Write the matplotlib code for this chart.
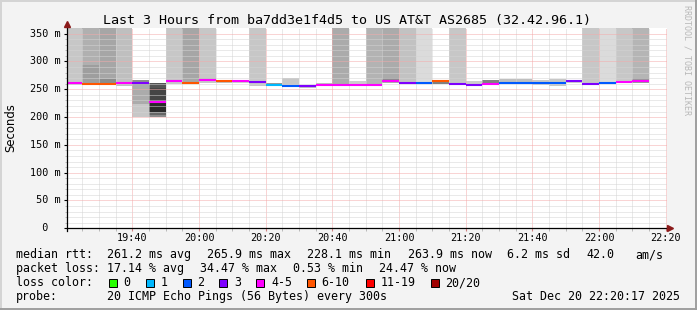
import matplotlib
matplotlib.use('Agg')
import matplotlib.pyplot as plt
import matplotlib.dates as mdates
import matplotlib.transforms as mtransforms
from matplotlib.patches import Rectangle
from matplotlib.lines import Line2D
import pandas as pd

W, H = 697, 310
MONO = 'DejaVu Sans Mono'

# --- data ---
title = "Last 3 Hours from ba7dd3e1f4d5 to US AT&T AS2685 (32.42.96.1)"
slots = pd.date_range("2025-12-20 19:20", periods=35, freq="5min")
x_start = pd.Timestamp("2025-12-20 19:20:17")
x_end = pd.Timestamp("2025-12-20 22:20:17")

median_ms = [261, 260, 260, 261, 262, 228, 264, 261, 266, 264, 264, 263, 257, 256, 255, 257, 258, 257,
             258, 264, 261, 261, 264, 259, 258, 260, 261, 261, 261, 262, 265, 260, 261, 263, 264]
lost = [4, 7, 7, 4, 3, 4, 4, 7, 4, 7, 4, 3, 1, 2, 3, 4, 4, 4,
        4, 4, 3, 2, 7, 3, 3, 4, 2, 2, 2, 2, 3, 3, 2, 4, 4]

# smoke bands per slot: (low ms, high ms, density); 400 = above the scale
smoke = [
    [(257, 400, .22)],
    [(258, 293, .38), (293, 400, .31)],
    [(258, 400, .35), (260, 268, .45)],
    [(255, 400, .25)],
    [(200, 223, .22), (223, 258, .33), (258, 266, .45)],
    [(200, 203, .45), (203, 209, .6), (209, 227, .83), (227, 252, .73), (252, 261, .67)],
    [(260, 400, .22)],
    [(259, 400, .35)],
    [(262, 400, .22), (264, 270, .3)],
    [(261, 267, .25)],
    [(261, 267, .2)],
    [(256, 400, .22)],
    [(256, 262, .4)],
    [(255, 270, .22)],
    [(253, 258, .25)],
    [(255, 262, .25)],
    [(255, 400, .33)],
    [(255, 264, .2)],
    [(256, 400, .3)],
    [(261, 400, .33), (263, 271, .45)],
    [(259, 400, .24)],
    [(259, 400, .14)],
    [(259, 265, .5)],
    [(258, 400, .22)],
    [(256, 264, .2)],
    [(259, 267, .5)],
    [(259, 268, .25)],
    [(259, 268, .25)],
    [(258, 266, .22)],
    [(255, 268, .22)],
    [(262, 267, .2)],
    [(259, 400, .22)],
    [(259, 400, .14)],
    [(261, 400, .22)],
    [(261, 400, .29), (262, 270, .4)],
]

loss_labels = ["0", "1", "2", "3", "4-5", "6-10", "11-19", "20/20"]
loss_upper = [0, 1, 2, 3, 5, 10, 19, 20]
loss_colors = ["#26ff00", "#00b8ff", "#0059ff", "#7e00ff", "#ff00ff", "#ff5500", "#ff0000", "#a10000"]

rtt_text = ["median rtt:", "261.2 ms avg", "265.9 ms max", "228.1 ms min", "263.9 ms now", "6.2 ms sd", "42.0", "am/s"]
loss_text = ["packet loss:", "17.14 % avg", "34.47 % max", "0.53 % min", "24.47 % now"]
probe_text = ["probe:", "20 ICMP Echo Pings (56 Bytes) every 300s"]
stamp = "Sat Dec 20 22:20:17 2025"

# --- layout (pixels) ---
rtt_x = [16, 107.3, 207.3, 307.3, 407.7, 506.7, 586.7, 635.7]
loss_x = [16, 107.3, 200, 293.3, 379.3]
probe_x = [16, 107.3]
box_x = [108.7, 145.7, 182.7, 219.3, 256.3, 307, 365.7, 430.7]


def fx(px):
    return px / W


def fy(py):
    return 1 - py / H


def loss_color(n):
    for up, c in zip(loss_upper, loss_colors):
        if n <= up:
            return c
    return loss_colors[-1]


fig = plt.figure(figsize=(W / 100, H / 100), dpi=100, facecolor='#f3f3f3')
ax = fig.add_axes([fx(66.7), fy(228.3), 600 / W, 200.2 / H])
ax.set_facecolor('white')

xs = mdates.date2num(slots)
step = 5 / 1440

# smoke
for x0, bands in zip(xs, smoke):
    for lo, hi, d in bands:
        g = 1 - d
        ax.bar(x0, hi - lo, bottom=lo, width=step, align='edge', color=(g, g, g), linewidth=0, zorder=1)

# median line coloured by loss
ax.hlines(median_ms, xs, xs + step, colors=[loss_color(n) for n in lost], linewidth=1.5, zorder=4)

ax.set_xlim(mdates.date2num(x_start), mdates.date2num(x_end))
ax.set_ylim(0, 360)
ax.set_yticks(range(0, 351, 50))
ax.set_yticks(range(0, 360, 10), minor=True)
ax.xaxis.set_major_locator(mdates.MinuteLocator(byminute=[0, 20, 40]))
ax.xaxis.set_minor_locator(mdates.MinuteLocator(byminute=range(0, 60, 5)))
ax.xaxis.set_major_formatter(mdates.DateFormatter('%H:%M'))

# dotted grid drawn over the smoke, like rrdtool does
ax.set_axisbelow(False)
ax.grid(which='minor', color='#d4d4d4', linestyle=(0, (1, 1)), linewidth=0.72)
ax.grid(which='major', color='#f4aaaa', linestyle=(0, (1, 1)), linewidth=0.72)

for s in ['top', 'right', 'left', 'bottom']:
    ax.spines[s].set_visible(False)
ax.plot([0, 1.007], [0, 0], transform=ax.transAxes, color='black', lw=0.9, clip_on=False, zorder=5)
ax.plot([0, 0], [-0.012, 1.0], transform=ax.transAxes, color='black', lw=0.9, clip_on=False, zorder=5)
ax.plot([0], [1.02], marker='^', ms=4.5, color='#8b1a1a', transform=ax.transAxes, clip_on=False, zorder=6)
ax.plot([1.006], [0], marker='>', ms=4.5, color='#8b1a1a', transform=ax.transAxes, clip_on=False, zorder=6)

ax.tick_params(axis='x', which='major', length=2, color='#d08080', labelsize=7.3, pad=1.5)
ax.tick_params(axis='x', which='minor', length=2, color='#b0b0b0')
ax.tick_params(axis='y', which='major', length=2.5, color='black', labelleft=False)
ax.tick_params(axis='y', which='minor', length=1.2, color='#b0b0b0')
for lab in ax.get_xticklabels():
    lab.set_family(MONO)

# y tick labels, rrdtool style "350 m"
ytr = mtransforms.blended_transform_factory(fig.transFigure, ax.transData)
for v in range(0, 351, 50):
    s = f"{v:>3} m" if v else "  0"
    fig.text(fx(30), v, s, transform=ytr, ha='left', va='center', family=MONO, fontsize=7.3)

fig.text(fx(347), fy(24), title, ha='center', va='baseline', family=MONO, fontsize=9.6)
fig.text(fx(11), fy(127.5), 'Seconds', rotation=90, ha='center', va='center', fontsize=8.4)
fig.text(fx(687), fy(5), 'RRDTOOL / TOBI OETIKER', rotation=270, ha='center', va='top',
         family=MONO, fontsize=6, color='#b8b8b8')

# legend block
for s, x in zip(rtt_text, rtt_x):
    fig.text(fx(x), fy(258.3), s, family=MONO, fontsize=8.4, va='baseline')
for s, x in zip(loss_text, loss_x):
    fig.text(fx(x), fy(272), s, family=MONO, fontsize=8.4, va='baseline')
fig.text(fx(16), fy(286), 'loss color:', family=MONO, fontsize=8.4, va='baseline')
for lab, c, x in zip(loss_labels, loss_colors, box_x):
    fig.add_artist(Rectangle((fx(x), fy(286.5)), 8 / W, 8 / H, transform=fig.transFigure,
                             facecolor=c, edgecolor='black', linewidth=0.7))
    fig.text(fx(x + 14.7), fy(286), lab, family=MONO, fontsize=8.4, va='baseline')
for s, x in zip(probe_text, probe_x):
    fig.text(fx(x), fy(299.8), s, family=MONO, fontsize=8.4, va='baseline')
fig.text(fx(680), fy(299.8), stamp, family=MONO, fontsize=8.4, va='baseline', ha='right')

# frame
fig.add_artist(Line2D([0, 1], [fy(1), fy(1)], transform=fig.transFigure, color='#d4d4d4', lw=1.4))
fig.add_artist(Line2D([fx(1), fx(1)], [0, 1], transform=fig.transFigure, color='#d4d4d4', lw=1.4))
fig.add_artist(Line2D([fx(696), fx(696)], [0, 1], transform=fig.transFigure, color='#9e9e9e', lw=1.4))
fig.add_artist(Line2D([0, 1], [fy(309), fy(309)], transform=fig.transFigure, color='#9e9e9e', lw=1.4))

plt.savefig('out.png', dpi=100, facecolor=fig.get_facecolor())
plt.close()
